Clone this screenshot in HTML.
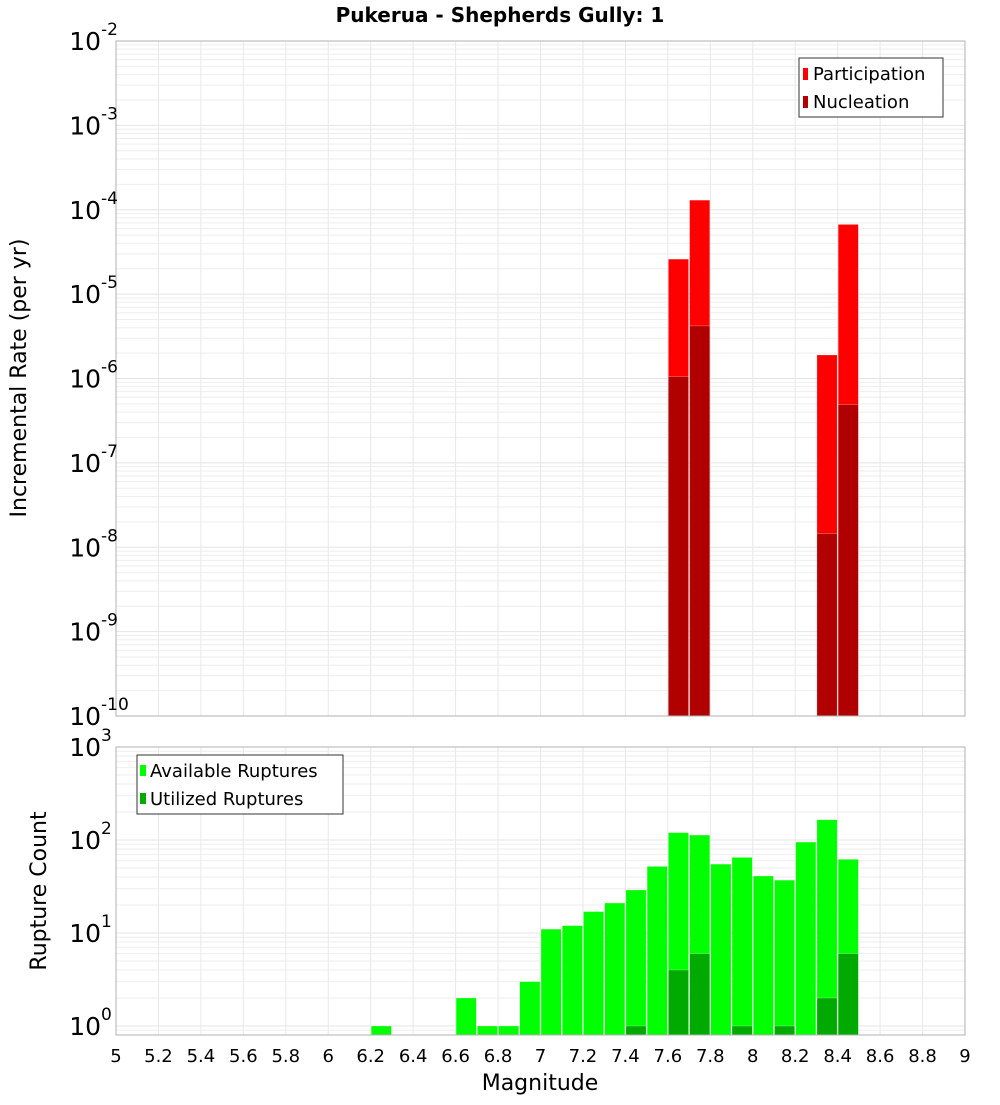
<!DOCTYPE html>
<html><head><meta charset="utf-8"><style>
body{margin:0;background:#fff;font-family:"Liberation Sans","DejaVu Sans",sans-serif}
svg text{font-family:"DejaVu Sans","Liberation Sans",sans-serif}
</style></head><body>
<svg id="c" width="1000" height="1100" xmlns="http://www.w3.org/2000/svg">
<text x="500" y="22" text-anchor="middle" font-size="20" font-weight="bold">Pukerua - Shepherds Gully: 1</text>
<text transform="translate(26,378) rotate(-90)" text-anchor="middle" font-size="22">Incremental Rate (per yr)</text>
<text transform="translate(46,891) rotate(-90)" text-anchor="middle" font-size="22">Rupture Count</text>
<text x="540" y="1090" text-anchor="middle" font-size="22">Magnitude</text>
<g id="top"></g>
<g id="bot"></g>
<g>
<rect x="799" y="58" width="144" height="59" fill="#fff" stroke="#333" stroke-width="1"/>
<rect x="803" y="68" width="5" height="12" fill="#ff0000"/>
<text x="813" y="80" font-size="18">Participation</text>
<rect x="803" y="96" width="5" height="12" fill="#b00000"/>
<text x="813" y="108" font-size="18">Nucleation</text>
</g>
<g>
<rect x="137" y="755" width="206" height="59" fill="#fff" stroke="#333" stroke-width="1"/>
<rect x="140" y="765" width="6" height="11" fill="#00ff00"/>
<text x="150" y="777" font-size="18">Available Ruptures</text>
<rect x="140" y="793" width="6" height="11" fill="#00aa00"/>
<text x="150" y="805" font-size="18">Utilized Ruptures</text>
</g>
</svg>
<script>
const magBins=[7.6,7.7,8.3,8.4];
const participation=[2.6e-5,1.3e-4,1.9e-6,6.7e-5];
const nucleation=[1.05e-6,4.2e-6,1.45e-8,4.9e-7];
const countBins=[6.2,6.6,6.7,6.8,6.9,7.0,7.1,7.2,7.3,7.4,7.5,7.6,7.7,7.8,7.9,8.0,8.1,8.2,8.3,8.4];
const available=[1,2,1,1,3,11,12,17,21,29,52,120,113,55,65,41,37,95,165,62];
const utilBins=[7.4,7.6,7.7,7.9,8.1,8.3,8.4];
const utilized=[1,4,6,1,1,2,6];
const xTicks=[5,5.2,5.4,5.6,5.8,6,6.2,6.4,6.6,6.8,7,7.2,7.4,7.6,7.8,8,8.2,8.4,8.6,8.8,9];
const topExp=[-2,-3,-4,-5,-6,-7,-8,-9,-10];
const botExp=[3,2,1,0];
const NS='http://www.w3.org/2000/svg';
const X0=116,X1=965;
const xs=m=>X0+(m-5)/4*(X1-X0);
const yTop=v=>41+(-2-Math.log10(v))*84.375;
const yBot=v=>1026-Math.log10(v)*93;
function mk(p,t,a){const e=document.createElementNS(NS,t);for(const k in a)e.setAttribute(k,a[k]);p.appendChild(e);return e;}
function grid(g,yf,lo,hi,yA,yB){
  for(let d=lo;d<hi;d++)for(let k=1;k<10;k++){const y=yf(k*Math.pow(10,d));if(y<yA-0.5||y>yB+0.5)continue;
    const l=mk(g,'line',{x1:X0,x2:X1,y1:y,y2:y,stroke:k==1?'#e4e4e4':'#eeeeee','stroke-width':1});
    
    }
  xTicks.forEach(t=>{const x=xs(t);const l=mk(g,'line',{x1:x,x2:x,y1:yA,y2:yB,stroke:'#e8e8e8','stroke-width':1});
    
    });
}
function bar(g,m,v,yf,base,fill,name){
  const x=xs(m),w=xs(m+0.1)-x,y=yf(v);
  const r=mk(g,'rect',{x:x+0.5,y:y,width:w-1,height:base-y,fill:fill,stroke:'#ffffff','stroke-opacity':0.5,'stroke-width':0.5});
  
  
}
function ylab(g,y,e){
  const t=mk(g,'text',{x:101,y:y+9,'text-anchor':'end','font-size':25});t.textContent='10';
  
  
  const s=mk(g,'text',{x:101,y:y-6,'font-size':17});s.textContent=String(e);
  
  
}
const gt=document.getElementById('top');
grid(gt,yTop,-10,-2,41,716);
magBins.forEach((m,i)=>bar(gt,m,participation[i],yTop,716,'#ff0000','participation-bar'));
magBins.forEach((m,i)=>bar(gt,m,nucleation[i],yTop,716,'#b00000','nucleation-bar'));
mk(gt,'rect',{x:X0,y:41,width:X1-X0,height:675,fill:'none',stroke:'#b0b0b0','stroke-width':1});
topExp.forEach(e=>ylab(gt,yTop(Math.pow(10,e)),e));
const gb=document.getElementById('bot');
grid(gb,yBot,-1,3,747,1035);
countBins.forEach((m,i)=>bar(gb,m,available[i],yBot,1035,'#00ff00','available-bar'));
utilBins.forEach((m,i)=>bar(gb,m,utilized[i],yBot,1035,'#00aa00','utilized-bar'));
mk(gb,'rect',{x:X0,y:747,width:X1-X0,height:288,fill:'none',stroke:'#b0b0b0','stroke-width':1});
botExp.forEach(e=>ylab(gb,yBot(Math.pow(10,e)),e));
xTicks.forEach(t=>{const e=mk(gb,'text',{x:xs(t),y:1062,'text-anchor':'middle','font-size':18});e.textContent=String(t);
  
  });
</script>
</body></html>
